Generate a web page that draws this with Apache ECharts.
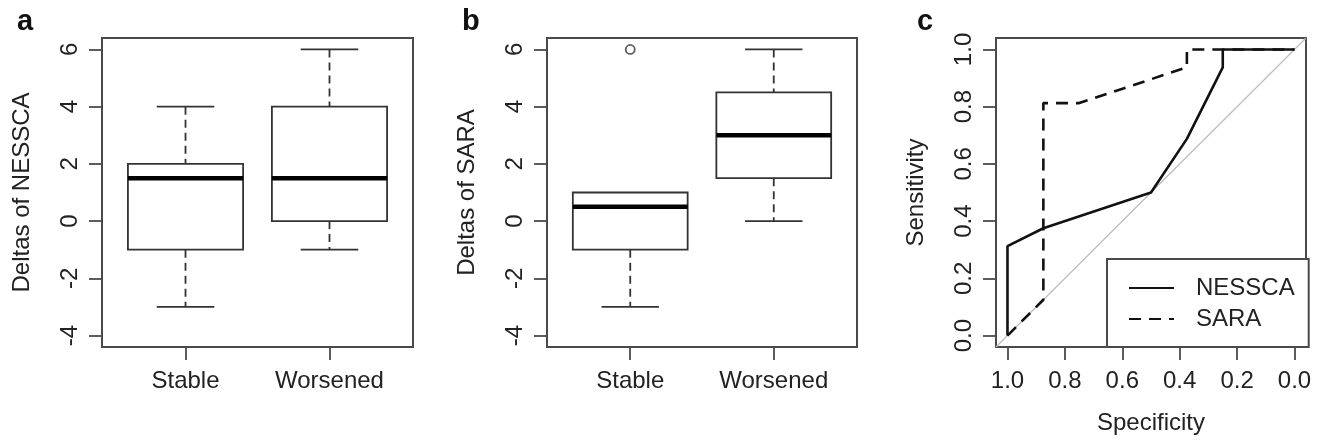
<!DOCTYPE html>
<html>
<head>
<meta charset="utf-8">
<script src="https://cdn.jsdelivr.net/npm/echarts@6/dist/echarts.min.js"></script>
<style>
html,body{margin:0;padding:0;background:#fff;}
#chart{width:1328px;height:446px;}
</style>
</head>
<body>
<div id="chart"></div>
<script>
// ---- data ----
const boxCategories = ['Stable', 'Worsened'];
// [min, Q1, median, Q3, max]
const nesscaStats = [[-3, -1, 1.5, 2, 4], [-1, 0, 1.5, 4, 6]];
const saraStats = [[-3, -1, 0.5, 1, 1], [0, 1.5, 3, 4.5, 6]];
const saraOutliers = [[1, 6]];
const deltaTicks = [-4, -2, 0, 2, 4, 6];
const rocTicks = [0, 0.2, 0.4, 0.6, 0.8, 1.0];
// ROC points: [specificity, sensitivity]
const rocNessca = [[1, 0], [1, 0.3125], [0.875, 0.375], [0.5, 0.5], [0.375, 0.6875], [0.25, 0.9375], [0.25, 1], [0, 1]];
const rocSara = [[1, 0], [0.875, 0.125], [0.875, 0.8125], [0.75, 0.8125], [0.375, 0.9375], [0.375, 1], [0, 1]];
const chanceLine = [[1.04, -0.04], [-0.04, 1.04]];

const FONT = "'Liberation Sans', Arial, sans-serif";
const INK = '#222';
const FRAME = '#4a4a4a';

function renderBox(params, api) {
  const x = api.value(0), mn = api.value(1), q1 = api.value(2), md = api.value(3), q3 = api.value(4), mx = api.value(5);
  const tl = api.coord([x - 0.4, q3]);
  const br = api.coord([x + 0.4, q1]);
  const m1 = api.coord([x - 0.4, md]), m2 = api.coord([x + 0.4, md]);
  const c = api.coord([x, 0])[0];
  const s1 = api.coord([x - 0.2, mn])[0], s2 = api.coord([x + 0.2, mn])[0];
  const yMin = api.coord([x, mn])[1], yMax = api.coord([x, mx])[1];
  const children = [];
  const dash = {stroke: '#333', lineWidth: 1.8, lineDash: [8, 5]};
  const solid = {stroke: '#333', lineWidth: 1.8};
  if (mx > q3) {
    children.push({type: 'line', shape: {x1: c, y1: yMax, x2: c, y2: tl[1]}, style: dash});
    children.push({type: 'line', shape: {x1: s1, y1: yMax, x2: s2, y2: yMax}, style: solid});
  }
  if (mn < q1) {
    children.push({type: 'line', shape: {x1: c, y1: br[1], x2: c, y2: yMin}, style: dash});
    children.push({type: 'line', shape: {x1: s1, y1: yMin, x2: s2, y2: yMin}, style: solid});
  }
  children.push({type: 'rect', shape: {x: tl[0], y: tl[1], width: br[0] - tl[0], height: br[1] - tl[1]},
    style: {fill: '#fff', stroke: '#333', lineWidth: 1.8}});
  children.push({type: 'line', shape: {x1: m1[0], y1: m1[1], x2: m2[0], y2: m2[1]}, style: {stroke: '#000', lineWidth: 4.5}});
  return {type: 'group', children};
}

function boxData(stats) {
  return stats.map((s, i) => [i + 1].concat(s));
}

const grids = [
  {left: 102, top: 38, width: 311, height: 309},
  {left: 547, top: 38, width: 310, height: 309},
  {left: 996, top: 38, width: 310, height: 309}
];
grids.forEach(g => { g.show = true; g.borderColor = FRAME; g.borderWidth = 2; g.backgroundColor = 'transparent'; });

const tickStyle = {show: true, inside: false, length: 13, lineStyle: {color: FRAME, width: 1.8}};

function catXAxis(idx) {
  return {
    type: 'value', gridIndex: idx, min: 0.42, max: 2.58, position: 'bottom',
    splitLine: {show: false}, axisLine: {show: false, onZero: false},
    axisTick: Object.assign({customValues: [1, 2]}, tickStyle),
    axisLabel: {customValues: [1, 2], formatter: v => boxCategories[Math.round(v) - 1], fontSize: 24, fontFamily: FONT, color: INK, margin: 22}
  };
}
function deltaYAxis(idx, name) {
  return {
    type: 'value', gridIndex: idx, min: -4.4, max: 6.4, position: 'left',
    name: name, nameLocation: 'middle', nameGap: 68, nameRotate: 90,
    nameTextStyle: {fontSize: 24, fontFamily: FONT, color: INK},
    splitLine: {show: false}, axisLine: {show: false, onZero: false},
    axisTick: Object.assign({customValues: deltaTicks}, tickStyle),
    axisLabel: {customValues: deltaTicks, rotate: 90, fontSize: 24, fontFamily: FONT, color: INK, margin: 20}
  };
}

const option = {
  animation: false,
  backgroundColor: '#fff',
  textStyle: {fontFamily: FONT},
  title: [
    {text: 'a', left: 12, top: 2, textStyle: {fontSize: 29, fontWeight: 'bold', color: '#111', fontFamily: FONT}},
    {text: 'b', left: 457, top: 2, textStyle: {fontSize: 29, fontWeight: 'bold', color: '#111', fontFamily: FONT}},
    {text: 'c', left: 912, top: 2, textStyle: {fontSize: 29, fontWeight: 'bold', color: '#111', fontFamily: FONT}}
  ],
  grid: grids,
  xAxis: [
    catXAxis(0), catXAxis(1),
    {
      type: 'value', gridIndex: 2, min: -0.04, max: 1.04, inverse: true, position: 'bottom',
      name: 'Specificity', nameLocation: 'middle', nameGap: 64,
      nameTextStyle: {fontSize: 24, fontFamily: FONT, color: INK},
      splitLine: {show: false}, axisLine: {show: false, onZero: false},
      axisTick: Object.assign({customValues: rocTicks}, tickStyle),
      axisLabel: {customValues: rocTicks, formatter: v => v.toFixed(1), fontSize: 24, fontFamily: FONT, color: INK, margin: 22}
    }
  ],
  yAxis: [
    deltaYAxis(0, 'Deltas of NESSCA'),
    deltaYAxis(1, 'Deltas of SARA'),
    {
      type: 'value', gridIndex: 2, min: -0.04, max: 1.04, position: 'left',
      name: 'Sensitivity', nameLocation: 'middle', nameGap: 68, nameRotate: 90,
      nameTextStyle: {fontSize: 24, fontFamily: FONT, color: INK},
      splitLine: {show: false}, axisLine: {show: false, onZero: false},
      axisTick: Object.assign({customValues: rocTicks}, tickStyle),
      axisLabel: {customValues: rocTicks, formatter: v => v.toFixed(1), rotate: 90, fontSize: 24, fontFamily: FONT, color: INK, margin: 20}
    }
  ],
  legend: {
    data: ['NESSCA', 'SARA'],
    orient: 'vertical', left: 1107, top: 259,
    padding: [17, 14, 16, 21], itemGap: 7,
    itemWidth: 45, itemHeight: 14,
    itemStyle: {opacity: 0},
    borderColor: FRAME, borderWidth: 2, backgroundColor: '#fff',
    textStyle: {fontSize: 24, fontFamily: FONT, color: INK, padding: [0, 0, 0, 17]}
  },
  series: [
    {type: 'custom', xAxisIndex: 0, yAxisIndex: 0, renderItem: renderBox, data: boxData(nesscaStats), encode: {x: 0, y: [1, 2, 3, 4, 5]}},
    {type: 'custom', xAxisIndex: 1, yAxisIndex: 1, renderItem: renderBox, data: boxData(saraStats), encode: {x: 0, y: [1, 2, 3, 4, 5]}},
    {type: 'scatter', xAxisIndex: 1, yAxisIndex: 1, data: saraOutliers, symbol: 'circle', symbolSize: 9,
      itemStyle: {color: '#fff', borderColor: '#333', borderWidth: 1.8}},
    {type: 'line', name: 'chance', xAxisIndex: 2, yAxisIndex: 2, data: chanceLine, symbol: 'none',
      lineStyle: {color: '#bbb', width: 1.2}, z: 1, silent: true},
    {type: 'line', name: 'SARA', xAxisIndex: 2, yAxisIndex: 2, data: rocSara, symbol: 'none',
      lineStyle: {color: '#111', width: 2.6, type: [12, 8]}, itemStyle: {color: '#111'}},
    {type: 'line', name: 'NESSCA', xAxisIndex: 2, yAxisIndex: 2, data: rocNessca, symbol: 'none',
      lineStyle: {color: '#111', width: 2.6}, itemStyle: {color: '#111'}}
  ]
};

const chart = echarts.init(document.getElementById('chart'), null, {renderer: 'canvas'});
chart.setOption(option);
</script>
</body>
</html>
